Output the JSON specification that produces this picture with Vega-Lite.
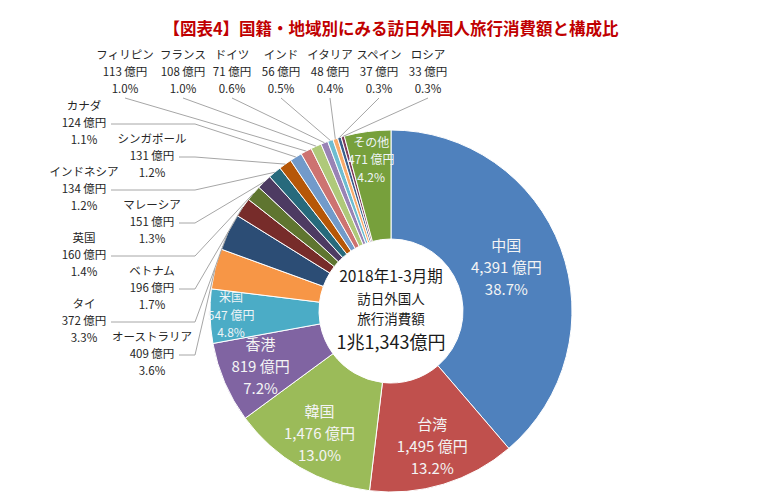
{
  "$schema": "https://vega.github.io/schema/vega-lite/v6.json",
  "width": 776,
  "height": 372,
  "autosize": {"type": "none"},
  "padding": {"left": 3, "top": 125, "right": 1, "bottom": 0},
  "background": "white",
  "title": {
    "text": "【図表4】国籍・地域別にみる訪日外国人旅行消費額と構成比",
    "color": "#C00000",
    "fontSize": 16.5,
    "font": "Noto Sans CJK JP",
    "fontWeight": "bold",
    "anchor": "middle",
    "frame": "group",
    "offset": 12
  },
  "config": {"view": {"stroke": null}, "font": "Noto Sans CJK JP"},
  "data": {
    "values": [
      {"name": "中国", "value": 4391, "pct": 38.7, "order": 1},
      {"name": "台湾", "value": 1495, "pct": 13.2, "order": 2},
      {"name": "韓国", "value": 1476, "pct": 13.0, "order": 3},
      {"name": "香港", "value": 819, "pct": 7.2, "order": 4},
      {"name": "米国", "value": 547, "pct": 4.8, "order": 5},
      {"name": "オーストラリア", "value": 409, "pct": 3.6, "order": 6},
      {"name": "タイ", "value": 372, "pct": 3.3, "order": 7},
      {"name": "ベトナム", "value": 196, "pct": 1.7, "order": 8},
      {"name": "英国", "value": 160, "pct": 1.4, "order": 9},
      {"name": "マレーシア", "value": 151, "pct": 1.3, "order": 10},
      {"name": "インドネシア", "value": 134, "pct": 1.2, "order": 11},
      {"name": "シンガポール", "value": 131, "pct": 1.2, "order": 12},
      {"name": "カナダ", "value": 124, "pct": 1.1, "order": 13},
      {"name": "フィリピン", "value": 113, "pct": 1.0, "order": 14},
      {"name": "フランス", "value": 108, "pct": 1.0, "order": 15},
      {"name": "ドイツ", "value": 71, "pct": 0.6, "order": 16},
      {"name": "インド", "value": 56, "pct": 0.5, "order": 17},
      {"name": "イタリア", "value": 48, "pct": 0.4, "order": 18},
      {"name": "スペイン", "value": 37, "pct": 0.3, "order": 19},
      {"name": "ロシア", "value": 33, "pct": 0.3, "order": 20},
      {"name": "その他", "value": 471, "pct": 4.2, "order": 21}
    ]
  },
  "transform": [
    {"window": [{"op": "sum", "field": "value", "as": "cum"}], "sort": [{"field": "order", "order": "ascending"}], "frame": [null, 0]},
    {"joinaggregate": [{"op": "sum", "field": "value", "as": "total"}]},
    {"calculate": "(datum.cum - datum.value / 2) / datum.total * 2 * PI", "as": "mid"},
    {"calculate": "181 * sin(datum.mid)", "as": "ex"},
    {"calculate": "181 * cos(datum.mid)", "as": "ey"},
    {"calculate": "datum.order == 1 ? 123 : (datum.order <= 4 ? 142 : (datum.order == 5 ? 160 : 152))", "as": "ir"},
    {"calculate": "datum.ir * sin(datum.mid)", "as": "ix"},
    {"calculate": "datum.ir * cos(datum.mid)", "as": "iy"},
    {"calculate": "datum.order - 6", "as": "k"},
    {"calculate": "datum.k >= 9 ? -208 + 49 * (datum.k - 9) : (datum.k == 8 ? -266 : (datum.k % 2 == 0 ? -239 : -307))", "as": "lx"},
    {"calculate": "datum.k >= 8 ? 238 : -44 + 33 * datum.k", "as": "ly"},
    {"calculate": "datum.k >= 8 ? datum.lx : -196", "as": "bx"},
    {"calculate": "datum.k >= 8 ? 213 : datum.ly", "as": "by"},
    {"calculate": "datum.lx + 27", "as": "ax"},
    {"calculate": "[datum.name, format(datum.value, ',') + ' 億円', format(datum.pct, '.1f') + '%']", "as": "lines"}
  ],
  "layer": [
    {
      "mark": {"type": "arc", "outerRadius": 181, "innerRadius": 72, "stroke": "white", "strokeWidth": 1},
      "encoding": {
        "theta": {"field": "value", "type": "quantitative", "stack": true},
        "order": {"field": "order", "type": "quantitative"},
        "color": {
          "field": "name",
          "type": "nominal",
          "legend": null,
          "scale": {
            "domain": ["中国", "台湾", "韓国", "香港", "米国", "オーストラリア", "タイ", "ベトナム", "英国", "マレーシア", "インドネシア", "シンガポール", "カナダ", "フィリピン", "フランス", "ドイツ", "インド", "イタリア", "スペイン", "ロシア", "その他"],
            "range": ["#4F81BD", "#C0504D", "#9BBB59", "#8064A2", "#4BACC6", "#F79646", "#2C4D75", "#772C2A", "#5F7530", "#4D3B62", "#276A7C", "#B65708", "#729ACA", "#CD7371", "#AFC97A", "#9983B5", "#6FBDD1", "#F9AB6B", "#3A5F8B", "#7E3A5A", "#77A03C"]
          }
        }
      }
    },
    {
      "transform": [{"filter": "datum.order <= 4"}],
      "mark": {"type": "text", "fontSize": 15, "lineHeight": 22, "dy": -22, "color": "#F4F4F4", "align": "center", "baseline": "middle"},
      "encoding": {
        "x": {"field": "ix", "type": "quantitative", "scale": {"domain": [-388, 388], "nice": false, "zero": false}, "axis": null},
        "y": {"field": "iy", "type": "quantitative", "scale": {"domain": [-186, 186], "nice": false, "zero": false}, "axis": null},
        "text": {"field": "lines", "type": "nominal"}
      }
    },
    {
      "transform": [{"filter": "datum.order == 5 || datum.order == 21"}],
      "mark": {"type": "text", "fontSize": 12, "lineHeight": 17.5, "dy": -17.5, "color": "#EEF4F6", "align": "center", "baseline": "middle"},
      "encoding": {
        "x": {"field": "ix", "type": "quantitative", "scale": {"domain": [-388, 388], "nice": false, "zero": false}, "axis": null},
        "y": {"field": "iy", "type": "quantitative", "scale": {"domain": [-186, 186], "nice": false, "zero": false}, "axis": null},
        "text": {"field": "lines", "type": "nominal"}
      }
    },
    {
      "transform": [{"filter": "datum.k >= 0 && datum.k < 8"}],
      "mark": {"type": "rule", "color": "#A6A6A6", "strokeWidth": 1},
      "encoding": {
        "x": {"field": "ax", "type": "quantitative", "scale": {"domain": [-388, 388], "nice": false, "zero": false}, "axis": null},
        "x2": {"field": "bx"},
        "y": {"field": "ly", "type": "quantitative", "scale": {"domain": [-186, 186], "nice": false, "zero": false}, "axis": null}
      }
    },
    {
      "transform": [{"filter": "datum.k >= 0 && datum.k <= 14"}],
      "mark": {"type": "rule", "color": "#A6A6A6", "strokeWidth": 1},
      "encoding": {
        "x": {"field": "bx", "type": "quantitative", "scale": {"domain": [-388, 388], "nice": false, "zero": false}, "axis": null},
        "x2": {"field": "ex"},
        "y": {"field": "by", "type": "quantitative", "scale": {"domain": [-186, 186], "nice": false, "zero": false}, "axis": null},
        "y2": {"field": "ey"}
      }
    },
    {
      "transform": [{"filter": "datum.k >= 0 && datum.k <= 14"}],
      "mark": {"type": "text", "fontSize": 11.5, "lineHeight": 17, "dy": -17, "color": "#262626", "align": "center", "baseline": "middle"},
      "encoding": {
        "x": {"field": "lx", "type": "quantitative", "scale": {"domain": [-388, 388], "nice": false, "zero": false}, "axis": null},
        "y": {"field": "ly", "type": "quantitative", "scale": {"domain": [-186, 186], "nice": false, "zero": false}, "axis": null},
        "text": {"field": "lines", "type": "nominal"}
      }
    },
    {
      "data": {"values": [{"t": "2018年1-3月期"}]},
      "mark": {"type": "text", "fontSize": 15.5, "color": "#1A1A1A", "align": "center", "baseline": "middle", "dy": -34},
      "encoding": {"text": {"field": "t", "type": "nominal"}}
    },
    {
      "data": {"values": [{"t": ["訪日外国人", "旅行消費額"]}]},
      "mark": {"type": "text", "fontSize": 13.5, "lineHeight": 20, "color": "#1A1A1A", "align": "center", "baseline": "middle", "dy": -11},
      "encoding": {"text": {"field": "t", "type": "nominal"}}
    },
    {
      "data": {"values": [{"t": "1兆1,343億円"}]},
      "mark": {"type": "text", "fontSize": 18, "color": "#1A1A1A", "align": "center", "baseline": "middle", "dy": 33},
      "encoding": {"text": {"field": "t", "type": "nominal"}}
    }
  ]
}
